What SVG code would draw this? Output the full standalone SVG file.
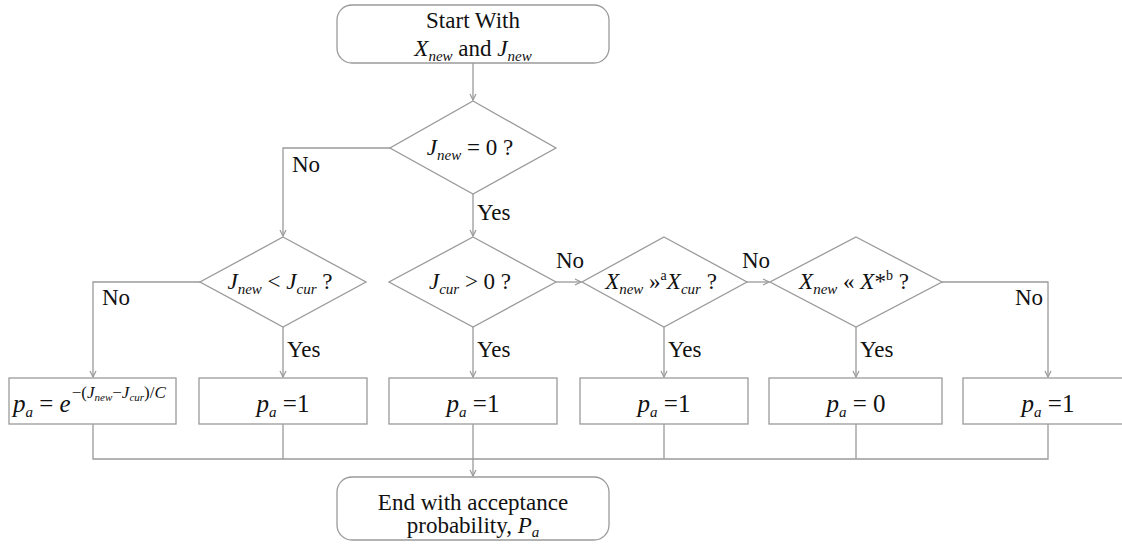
<svg xmlns="http://www.w3.org/2000/svg" width="1122" height="545" viewBox="0 0 1122 545">
<defs>
<style>
text{font-family:'Liberation Serif','DejaVu Serif','Times New Roman',serif}
.t{font-size:23px;fill:#111}
.m{text-anchor:middle}
.e{text-anchor:end}
.i{font-style:italic}
.s{font-size:15px;font-style:italic}
.f{font-size:25px}
.x{font-size:17px}
.xs{font-size:11px;font-style:italic}
.ln{fill:none;stroke:#9a9a9a;stroke-width:1.3}
.nd{fill:#fff;stroke:#9a9a9a;stroke-width:1.3}
</style>
<marker id="ah" markerWidth="8" markerHeight="8" refX="7" refY="4" orient="auto" markerUnits="userSpaceOnUse">
<path d="M1,1 L7,4 L1,7" fill="none" stroke="#9a9a9a" stroke-width="1.2"/>
</marker>
</defs>
<rect width="1122" height="545" fill="#fff"/>

<g id="connectors">
<path class="ln" d="M473,63 V100" marker-end="url(#ah)"/>
<path class="ln" d="M390,148 H283 V236" marker-end="url(#ah)"/>
<path class="ln" d="M473,194 V236" marker-end="url(#ah)"/>
<path class="ln" d="M200,282 H93 V377" marker-end="url(#ah)"/>
<path class="ln" d="M283,327 V377" marker-end="url(#ah)"/>
<path class="ln" d="M556,282 H581" marker-end="url(#ah)"/>
<path class="ln" d="M473,327 V377" marker-end="url(#ah)"/>
<path class="ln" d="M747,282 H769" marker-end="url(#ah)"/>
<path class="ln" d="M664,327 V377" marker-end="url(#ah)"/>
<path class="ln" d="M856,327 V377" marker-end="url(#ah)"/>
<path class="ln" d="M942,282 H1048 V377" marker-end="url(#ah)"/>
<path class="ln" d="M93,424 V459 H1048 V424 M283,424 V459 M473,424 V459 M664,424 V459 M856,424 V459"/>
<path class="ln" d="M473,459 V476" marker-end="url(#ah)"/>
<g class="t">
<text x="292" y="172">No</text>
<text x="477" y="220">Yes</text>
<text x="102" y="305">No</text>
<text x="287" y="357">Yes</text>
<text x="556" y="268">No</text>
<text x="477" y="357">Yes</text>
<text x="742" y="268">No</text>
<text x="668" y="357">Yes</text>
<text x="860" y="357">Yes</text>
<text class="e" x="1043" y="305">No</text>
</g>
</g>

<g id="start">
<rect class="nd" x="337" y="5" width="272" height="58" rx="15"/>
<text class="t m" x="473" y="28">Start With</text>
<text class="t m" x="473" y="56"><tspan class="i">X</tspan><tspan class="s" dy="5">new</tspan><tspan dy="-5"> and </tspan><tspan class="i">J</tspan><tspan class="s" dy="5">new</tspan></text>
</g>

<g id="d1">
<polygon class="nd" points="473,101 556,148 473,194 390,148"/>
<text class="t m" x="470" y="155"><tspan class="i">J</tspan><tspan class="s" dy="5">new</tspan><tspan dy="-5"> = 0 ?</tspan></text>
</g>

<g id="d2">
<polygon class="nd" points="283,237 366,282 283,327 200,282"/>
<text class="t m" x="280" y="289"><tspan class="i">J</tspan><tspan class="s" dy="5">new</tspan><tspan dy="-5"> &lt; </tspan><tspan class="i">J</tspan><tspan class="s" dy="5">cur</tspan><tspan dy="-5"> ?</tspan></text>
</g>

<g id="d3">
<polygon class="nd" points="473,237 556,282 473,327 389,282"/>
<text class="t m" x="470" y="289"><tspan class="i">J</tspan><tspan class="s" dy="5">cur</tspan><tspan dy="-5"> &gt; 0 ?</tspan></text>
</g>

<g id="d4">
<polygon class="nd" points="664,237 747,282 664,327 582,282"/>
<text class="t m" x="661" y="289"><tspan class="i">X</tspan><tspan class="s" dy="5">new</tspan><tspan dy="-5"> »</tspan><tspan font-size="14" dy="-9">a</tspan><tspan class="i" dy="9">X</tspan><tspan class="s" dy="5">cur</tspan><tspan dy="-5"> ?</tspan></text>
</g>

<g id="d5">
<polygon class="nd" points="856,237 942,282 856,327 770,282"/>
<text class="t m" x="854" y="289"><tspan class="i">X</tspan><tspan class="s" dy="5">new</tspan><tspan dy="-5"> « </tspan><tspan class="i">X</tspan><tspan>*</tspan><tspan font-size="14" dy="-9">b</tspan><tspan dy="9"> ?</tspan></text>
</g>

<g id="b1">
<rect class="nd" x="9" y="378" width="167" height="46"/>
<text class="t f" x="13" y="412"><tspan class="i">p</tspan><tspan class="s" dy="5">a</tspan><tspan dy="-5"> = </tspan><tspan class="i">e</tspan><tspan class="x" dy="-14" dx="1">−(</tspan><tspan class="x i">J</tspan><tspan class="xs" dy="3">new</tspan><tspan class="x" dy="-3">−</tspan><tspan class="x i">J</tspan><tspan class="xs" dy="3">cur</tspan><tspan class="x" dy="-3">)/</tspan><tspan class="x i">C</tspan></text>
</g>

<g id="b2">
<rect class="nd" x="199" y="378" width="168" height="46"/>
<text class="t f m" x="283" y="412"><tspan class="i">p</tspan><tspan class="s" dy="5">a</tspan><tspan dy="-5"> =1</tspan></text>
</g>

<g id="b3">
<rect class="nd" x="389" y="378" width="168" height="46"/>
<text class="t f m" x="473" y="412"><tspan class="i">p</tspan><tspan class="s" dy="5">a</tspan><tspan dy="-5"> =1</tspan></text>
</g>

<g id="b4">
<rect class="nd" x="580" y="378" width="168" height="46"/>
<text class="t f m" x="664" y="412"><tspan class="i">p</tspan><tspan class="s" dy="5">a</tspan><tspan dy="-5"> =1</tspan></text>
</g>

<g id="b5">
<rect class="nd" x="769" y="378" width="173" height="46"/>
<text class="t f m" x="856" y="412"><tspan class="i">p</tspan><tspan class="s" dy="5">a</tspan><tspan dy="-5"> = 0</tspan></text>
</g>

<g id="b6">
<rect class="nd" x="963" y="378" width="170" height="46"/>
<text class="t f m" x="1048" y="412"><tspan class="i">p</tspan><tspan class="s" dy="5">a</tspan><tspan dy="-5"> =1</tspan></text>
</g>

<g id="end">
<rect class="nd" x="337" y="477" width="272" height="63" rx="15"/>
<text class="t m" x="473" y="510">End with acceptance</text>
<text class="t m" x="473" y="533">probability, <tspan class="i">P</tspan><tspan class="s" dy="4">a</tspan></text>
</g>
</svg>
